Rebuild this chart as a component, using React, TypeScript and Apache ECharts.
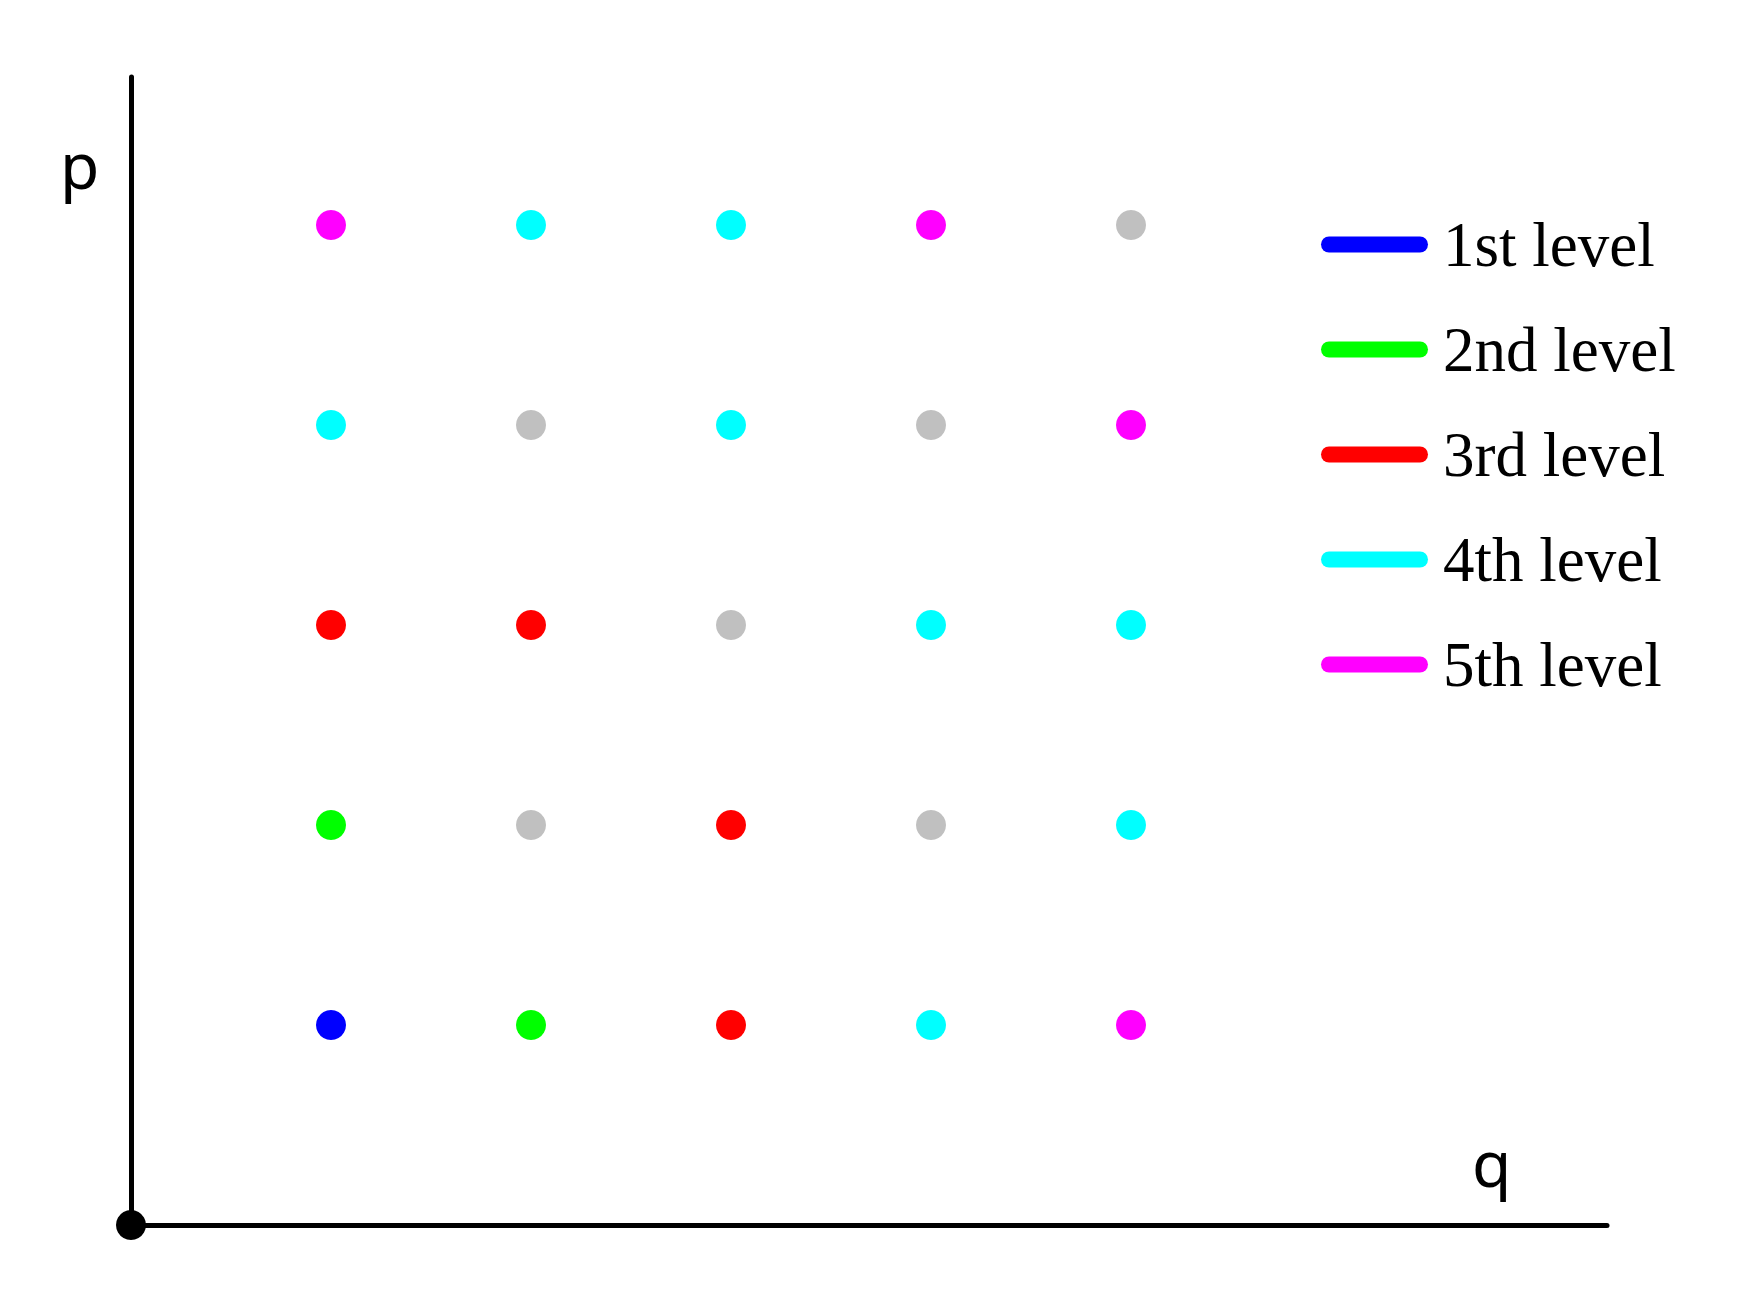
import React, { useEffect, useRef } from "react";
import * as echarts from "echarts";

// q values (columns) and p values (rows)
const qValues = [1, 2, 3, 4, 5];
const pValues = [5, 4, 3, 2, 1];
// level of each point, rows follow pValues, columns follow qValues (0 = unclassified, grey)
const levelRows: number[][] = [
  [5, 4, 4, 5, 0],
  [4, 0, 4, 0, 5],
  [3, 3, 0, 4, 4],
  [2, 0, 3, 0, 4],
  [1, 2, 3, 4, 5],
];
const levelNames = ["1st level", "2nd level", "3rd level", "4th level", "5th level"];
const levelColors = ["#0000ff", "#00ff00", "#ff0000", "#00ffff", "#ff00ff"];
const otherColor = "#c0c0c0";

const pillIcon =
  "path://M8,0 L99,0 A8,8 0 0 1 99,16 L8,16 A8,8 0 0 1 8,0 Z";

export default function App() {
  const ref = useRef<HTMLDivElement>(null);

  useEffect(() => {
    if (!ref.current) return;
    const chart = echarts.init(ref.current, undefined, { renderer: "svg" });

    const pointsFor = (level: number) => {
      const out: number[][] = [];
      pValues.forEach((p, r) => {
        qValues.forEach((q, c) => {
          if (levelRows[r][c] === level) out.push([q, p]);
        });
      });
      return out;
    };

    const series: any[] = levelNames.map((name, i) => ({
      name,
      type: "scatter",
      symbol: "circle",
      symbolSize: 30,
      data: pointsFor(i + 1),
      itemStyle: { color: levelColors[i], opacity: 1 },
    }));
    series.push({
      name: "other",
      type: "scatter",
      symbol: "circle",
      symbolSize: 30,
      data: pointsFor(0),
      itemStyle: { color: otherColor, opacity: 1 },
    });

    chart.setOption({
      animation: false,
      backgroundColor: "#ffffff",
      grid: { left: 131, top: 77, width: 1476, height: 1148 },
      xAxis: {
        type: "value",
        min: 0,
        max: 7.38,
        axisLine: {
          show: true,
          onZero: false,
          symbol: ["circle", "none"],
          symbolSize: [30, 30],
          lineStyle: { color: "#000000", width: 5 },
        },
        axisTick: { show: false },
        axisLabel: { show: false },
        splitLine: { show: false },
      },
      yAxis: {
        type: "value",
        min: 0,
        max: 5.74,
        axisLine: {
          show: true,
          onZero: false,
          lineStyle: { color: "#000000", width: 5 },
        },
        axisTick: { show: false },
        axisLabel: { show: false },
        splitLine: { show: false },
      },
      legend: {
        orient: "vertical",
        left: 1316,
        top: 208,
        padding: 5,
        data: levelNames,
        icon: pillIcon,
        itemWidth: 107,
        itemHeight: 16,
        itemGap: 42,
        selectedMode: false,
        itemStyle: { opacity: 1 },
        textStyle: {
          fontFamily: "Liberation Serif",
          fontSize: 63,
          lineHeight: 61,
          color: "#000000",
          padding: [0, 0, 0, 10],
        },
      },
      graphic: [
        {
          type: "text",
          left: 60,
          top: 132,
          style: {
            text: "p",
            font: "64px 'Noto Sans'",
            fill: "#000000",
          },
        },
        {
          type: "text",
          left: 1472,
          top: 1130,
          style: {
            text: "q",
            font: "64px 'Noto Sans'",
            fill: "#000000",
          },
        },
      ],
      series,
    });

    return () => chart.dispose();
  }, []);

  return (
    <div
      ref={ref}
      style={{ position: "fixed", left: 0, top: 0, width: 1758, height: 1316, background: "#fff" }}
    />
  );
}
